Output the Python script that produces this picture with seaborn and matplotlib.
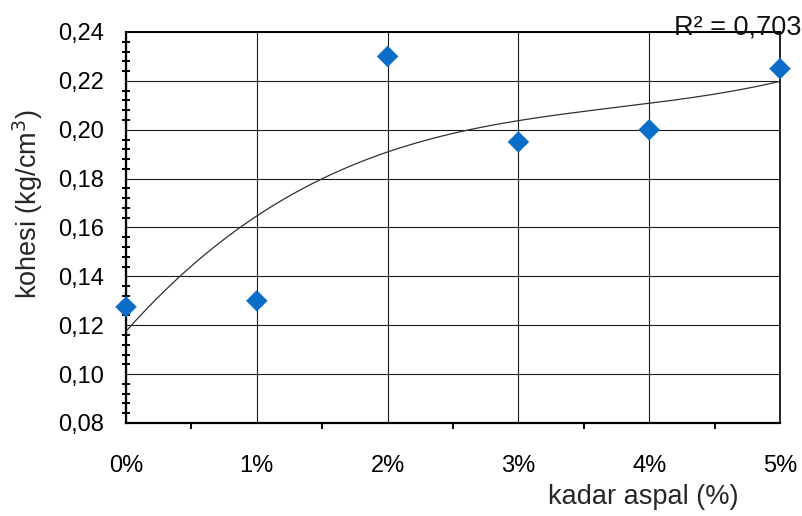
import numpy as np
import pandas as pd
import seaborn as sns
import matplotlib
matplotlib.use("Agg")
import matplotlib.pyplot as plt
from matplotlib.ticker import MultipleLocator, FuncFormatter

# Asphalt content (%) versus cohesion (kg/cm3)
kadar_aspal = [0, 1, 2, 3, 4, 5]
kohesi = [0.1275, 0.130, 0.230, 0.195, 0.200, 0.225]
x_tick_labels = ["0%", "1%", "2%", "3%", "4%", "5%"]
y_ticks = [0.08, 0.10, 0.12, 0.14, 0.16, 0.18, 0.20, 0.22, 0.24]

df = pd.DataFrame({"kadar": kadar_aspal, "kohesi": kohesi})

sns.set_style("white")
plt.rcParams["font.family"] = ["Liberation Sans", "DejaVu Sans"]

fig = plt.figure(figsize=(8.03, 5.16), dpi=100)
ax = fig.add_axes([126 / 803, 1 - 423 / 516, (780 - 126) / 803, (423 - 32) / 516])

# cubic trend line fitted to the measurements
coef = np.polyfit(df["kadar"], df["kohesi"], 3)
xs = np.linspace(0, 5, 200)
fit = np.polyval(coef, xs)
pred = np.polyval(coef, df["kadar"])
r2 = 1 - np.sum((df["kohesi"] - pred) ** 2) / np.sum((df["kohesi"] - df["kohesi"].mean()) ** 2)
sns.lineplot(x=xs, y=fit, ax=ax, color="#303030", linewidth=0.9, zorder=3)

sns.scatterplot(data=df, x="kadar", y="kohesi", ax=ax, marker="D", s=120,
                color="#0A6EC8", edgecolor="none", zorder=4, clip_on=False)

ax.set_xlim(0, 5)
ax.set_ylim(0.08, 0.24)
ax.set_xticks(kadar_aspal)
ax.set_xticklabels(x_tick_labels)
ax.xaxis.set_minor_locator(MultipleLocator(0.5))
ax.set_yticks(y_ticks)
ax.yaxis.set_minor_locator(MultipleLocator(0.004))
ax.yaxis.set_major_formatter(FuncFormatter(lambda v, p: f"{v:.2f}".replace(".", ",")))

ax.grid(True, which="major", color="#1a1a1a", linewidth=0.8)
ax.set_axisbelow(True)

for side in ["left", "bottom", "top", "right"]:
    ax.spines[side].set_visible(True)
    ax.spines[side].set_color("black")
ax.spines["left"].set_linewidth(1.6)
ax.spines["bottom"].set_linewidth(1.6)
ax.spines["top"].set_linewidth(1.4)
ax.spines["right"].set_linewidth(1.2)

ax.tick_params(axis="y", which="major", direction="out", length=6, width=1.4,
               labelsize=17, pad=10, colors="black")
ax.tick_params(axis="y", which="minor", direction="inout", length=6, width=1.4,
               left=True, colors="black")
ax.tick_params(axis="x", which="major", direction="out", length=5, width=1.4,
               labelsize=17, pad=18, colors="black")
ax.tick_params(axis="x", which="minor", direction="out", length=4, width=1.4,
               bottom=True, colors="black")

ax.set_xlabel("kadar aspal (%)", fontsize=19.5, ha="center", va="center")
ax.xaxis.set_label_coords((643 - 126) / 654, (423 - 497) / 391)
ax.set_ylabel("kohesi (kg/cm$^3$)", fontsize=19.5, ha="center", va="center")
ax.yaxis.set_label_coords((28 - 126) / 654, (423 - 204) / 391)

fig.text(802 / 803, 1 - 34 / 516, f"R² = {r2:.3f}".replace(".", ","),
         fontsize=19.5, ha="right", va="baseline", color="#111111")

fig.savefig("out.png", dpi=100)
